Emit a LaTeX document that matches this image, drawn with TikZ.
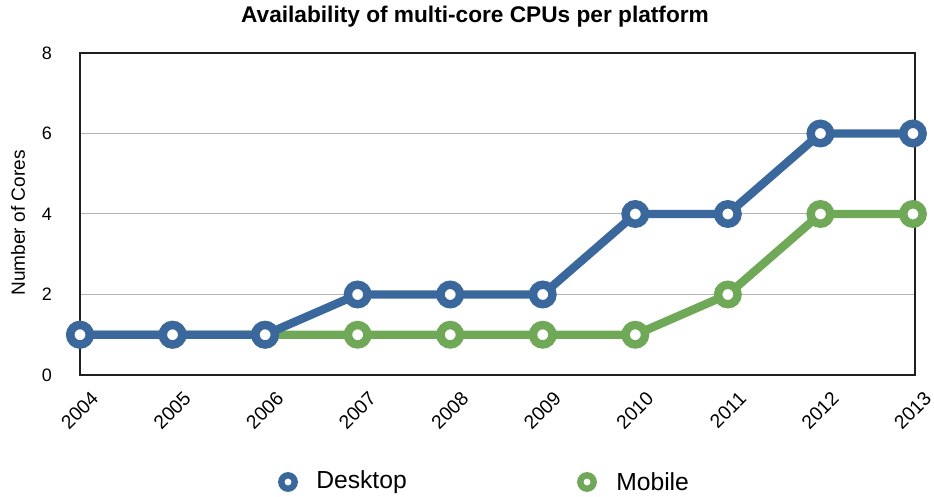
\documentclass[tikz,border=0pt]{standalone}
\usepackage{fontspec}
\setmainfont{Liberation Sans}
\definecolor{dblue}{HTML}{3A689D}
\definecolor{mgreen}{HTML}{6FA957}
\definecolor{gridgray}{HTML}{B4B4B4}
\begin{document}
\begin{tikzpicture}[x=0.75pt,y=0.75pt,
  series/.style={line width=6.3pt, line join=round, line cap=round},
  marker/.style={circle, draw, fill=white, line width=6.3pt, minimum size=14.6pt, inner sep=0pt},
  legmarker/.style={circle, draw, fill=white, line width=4.8pt, minimum size=10pt, inner sep=0pt},
  ticklbl/.style={font=\fontsize{13.5}{16}\selectfont, inner sep=0pt},
  yearlbl/.style={font=\fontsize{14.5}{17}\selectfont, inner sep=0pt, anchor=east, rotate=45},
  gridline/.style={gridgray, line width=0.75pt},
  frameline/.style={black!88, line width=1.5pt}]
\useasboundingbox (0,0) rectangle (934,496);
% title
\node[font=\bfseries\fontsize{17}{20}\selectfont] (title) at (475,479) {Availability of multi-core CPUs per platform};
% grid and frame
\foreach \v in {2,4,6} {\draw[gridline] (80,{121+40.25*\v}) -- (915,{121+40.25*\v});}
\draw[frameline] (80,121) rectangle (915,443);
% y tick labels
\foreach \v in {0,2,4,6,8} {\node[ticklbl] (yl\v) at (47,{121+40.25*\v}) {\v};}
\node[font=\fontsize{14.3}{17}\selectfont, rotate=90] (ylabel) at (18,273) {Number of Cores};
% x labels
\foreach \i in {0,...,9} {
  \pgfmathtruncatemacro\yr{2004+\i}
  \node[yearlbl] (xl\i) at ({80+92.55*\i+15},101) {\yr};
}
% data coordinates
\foreach \i/\v in {0/1,1/1,2/1,3/2,4/2,5/2,6/4,7/4,8/6,9/6} {\coordinate (d\i) at ({80+92.55*\i},{121+40.25*\v});}
\foreach \i/\v in {0/1,1/1,2/1,3/1,4/1,5/1,6/1,7/2,8/4,9/4} {\coordinate (m\i) at ({80+92.55*\i},{121+40.25*\v});}
% mobile series
\draw[series, mgreen] (m0) -- (m1) -- (m2) -- (m3) -- (m4) -- (m5) -- (m6) -- (m7) -- (m8) -- (m9);
\foreach \i in {0,...,9} {\node[marker, draw=mgreen] (mk\i) at (m\i) {};}
% desktop series
\draw[series, dblue] (d0) -- (d1) -- (d2) -- (d3) -- (d4) -- (d5) -- (d6) -- (d7) -- (d8) -- (d9);
\foreach \i in {0,...,9} {\node[marker, draw=dblue] (dk\i) at (d\i) {};}
% legend
\node[legmarker, draw=dblue] (legd) at (288,14) {};
\node[anchor=west, font=\fontsize{18.5}{22}\selectfont, inner sep=0pt] (legdt) at (316,14) {Desktop};
\node[legmarker, draw=mgreen] (legm) at (587,14) {};
\node[anchor=west, font=\fontsize{18.5}{22}\selectfont, inner sep=0pt] (legmt) at (616,14) {Mobile};
\end{tikzpicture}
\end{document}
